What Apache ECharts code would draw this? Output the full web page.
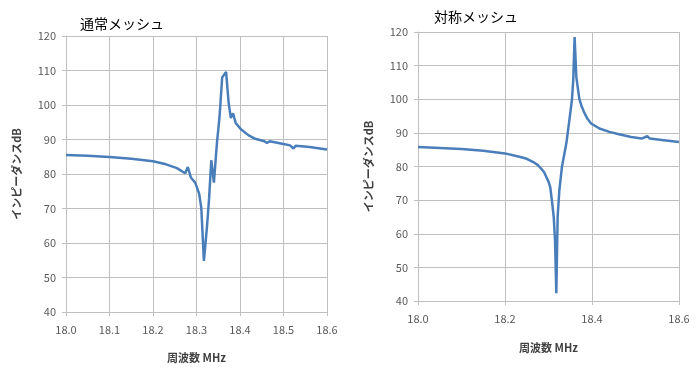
<!DOCTYPE html>
<html><head><meta charset="utf-8">
<script src="https://cdn.jsdelivr.net/npm/echarts@6/dist/echarts.min.js"></script>
<style>html,body{margin:0;padding:0;background:#fff}#c{width:698px;height:373px}</style>
</head><body><div id="c"></div>
<script>
const titleLeft = '通常メッシュ';
const titleRight = '対称メッシュ';
const xName = '周波数 MHz';
const yName = 'インピーダンスdB';

const normalFreq = [18.000,18.05,18.100,18.150,18.200,18.230,18.255,18.274,18.280,18.287,18.297,18.306,18.311,18.317,18.324,18.329,18.334,18.340,18.347,18.353,18.359,18.368,18.374,18.379,18.384,18.390,18.402,18.420,18.433,18.456,18.462,18.468,18.500,18.515,18.523,18.528,18.560,18.600];
const normalVal  = [85.5,85.3,84.9,84.4,83.7,82.8,81.7,80.2,82.0,79.0,77.5,74.3,70.2,54.8,64.5,73.0,84.0,77.5,89.0,96.6,108.0,109.6,100.5,96.2,97.6,94.8,93.0,91.2,90.3,89.5,89.0,89.5,88.7,88.3,87.4,88.2,87.8,87.1];

const symFreq = [18.000,18.050,18.100,18.150,18.200,18.233,18.250,18.264,18.275,18.283,18.290,18.295,18.300,18.304,18.308,18.312,18.315,18.318,18.321,18.325,18.331,18.341,18.348,18.354,18.357,18.360,18.364,18.371,18.377,18.383,18.390,18.398,18.417,18.440,18.462,18.490,18.514,18.527,18.533,18.560,18.600];
const symVal  = [85.8,85.5,85.2,84.7,83.9,82.9,82.3,81.4,80.5,79.4,78.3,76.9,75.5,73.9,69.7,65.0,58.0,42.3,65.0,73.0,80.0,86.9,93.8,100.0,106.0,118.5,106.6,100.0,97.6,95.8,94.1,92.8,91.3,90.3,89.6,88.8,88.3,89.0,88.3,87.9,87.3];

const yTicks = {min:40, max:120, interval:10};

const ch = echarts.init(document.getElementById('c'), null, {renderer:'canvas'});
const font = '"Noto Sans CJK JP","Noto Sans",sans-serif';
const grey = '#595959';
const gridLine = {show:true, lineStyle:{color:'#bfbfbf', width:1}};
function xAxis(idx, interval){
  return {type:'value', gridIndex:idx, min:18.0, max:18.6, interval:interval,
    name:xName, nameLocation:'middle', nameGap: idx===0?40:41,
    nameTextStyle:{color:'#404040', fontSize:11, fontWeight:'bold', fontFamily:font},
    axisLine:{show:true, lineStyle:{color:'#bfbfbf'}}, axisTick:{show:true, length:4, lineStyle:{color:'#bfbfbf'}},
    axisLabel:{color:grey, fontSize:11, fontFamily:font, margin:12, formatter:v=>v.toFixed(1)},
    splitLine:gridLine};
}
function yAxis(idx){
  return {type:'value', gridIndex:idx, min:yTicks.min, max:yTicks.max, interval:yTicks.interval,
    name:yName, nameLocation:'middle', nameGap:44, nameRotate:90,
    nameTextStyle:{color:'#404040', fontSize:11, fontWeight:'bold', fontFamily:font},
    axisLine:{show:true, lineStyle:{color:'#bfbfbf'}}, axisTick:{show:true, length:4, lineStyle:{color:'#bfbfbf'}},
    axisLabel:{color:grey, fontSize:11, fontFamily:font, margin:10},
    splitLine:gridLine};
}
ch.setOption({
  animation:false,
  title:[
    {text:titleLeft, left:75, top:12, textStyle:{fontSize:14, fontWeight:'normal', color:'#000', fontFamily:font}},
    {text:titleRight, left:429, top:5, textStyle:{fontSize:14, fontWeight:'normal', color:'#000', fontFamily:font}}
  ],
  grid:[
    {left:66, top:36, width:261, height:276},
    {left:418, top:32, width:261, height:269}
  ],
  xAxis:[xAxis(0,0.1), xAxis(1,0.2)],
  yAxis:[yAxis(0), yAxis(1)],
  series:[
    {type:'line', xAxisIndex:0, yAxisIndex:0, data:normalFreq.map((f,i)=>[f,normalVal[i]]), showSymbol:false, lineStyle:{color:'#4a7ebb', width:2.5}},
    {type:'line', xAxisIndex:1, yAxisIndex:1, data:symFreq.map((f,i)=>[f,symVal[i]]), showSymbol:false, lineStyle:{color:'#4a7ebb', width:2.5}}
  ]
});
</script></body></html>
